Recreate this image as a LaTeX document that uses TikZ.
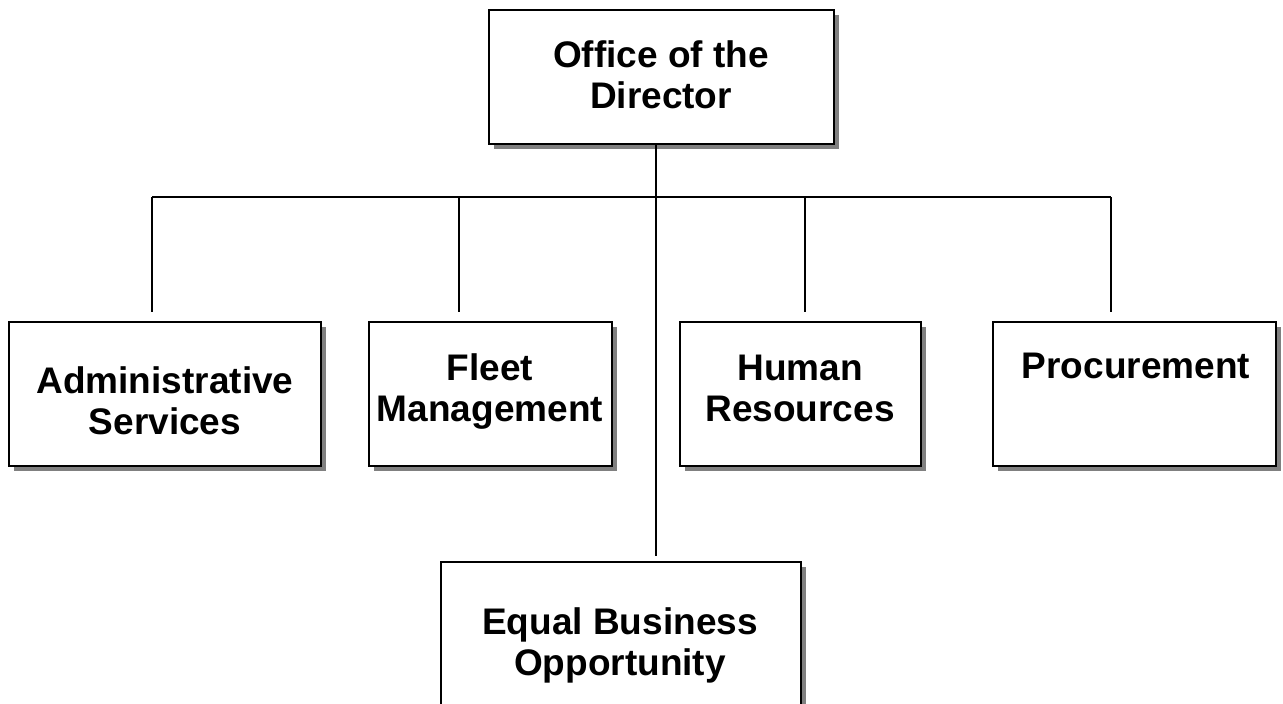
\documentclass[tikz,border=0pt]{standalone}
\usepackage{fontspec}
\setmainfont{Liberation Sans}
\usetikzlibrary{shadows}
\begin{document}
\begin{tikzpicture}[x=1pt,y=-1pt,
  unitbox/.style={rectangle, draw=black, line width=1.8pt, fill=white, inner sep=0pt,
    drop shadow={shadow xshift=5pt, shadow yshift=-5pt, fill=black!50, opacity=1}},
  lbl/.style={font=\fontsize{37}{41}\selectfont\bfseries, align=center, inner sep=0pt, anchor=base},
  link/.style={line width=1.5pt, black}]
\useasboundingbox (0,0) rectangle (1283,704);
\clip (0,0) rectangle (1283,704);
\fill[white] (0,0) rectangle (1283,704);

% boxes
\node[unitbox, minimum width=345pt, minimum height=134pt] (dir) at (661.5,77) {};
\node[unitbox, minimum width=312pt, minimum height=144pt] (adm) at (165,394) {};
\node[unitbox, minimum width=243pt, minimum height=144pt] (flt) at (490.5,394) {};
\node[unitbox, minimum width=241pt, minimum height=144pt] (hum) at (800.5,394) {};
\node[unitbox, minimum width=283pt, minimum height=144pt] (prc) at (1134.5,394) {};
\node[unitbox, minimum width=360pt, minimum height=170pt] (ebo) at (621,647) {};

% labels (base anchor = baseline of the last line)
\node[lbl] (tdir) at (661,108) {Office of the\\Director};
\node[lbl] (tadm) at (165,434) {Administrative\\Services};
\node[lbl] (tflt) at (490,421) {Fleet\\Management};
\node[lbl] (thum) at (800,421) {Human\\Resources};
\node[lbl] (tprc) at (1136,378) {Procurement};
\node[lbl] (tebo) at (620,675) {Equal Business\\Opportunity};

% junctions of the bus
\coordinate (jA) at (152,197);
\coordinate (jB) at (459,197);
\coordinate (jT) at (656,197);
\coordinate (jC) at (805,197);
\coordinate (jD) at (1111,197);

% connectors
\draw[link, shorten >=5pt] (dir.south -| jT) -- (ebo.north -| jT);
\draw[link] (jA) -- (jD);
\draw[link, shorten >=9pt] (jA) -- (jA |- adm.north);
\draw[link, shorten >=9pt] (jB) -- (jB |- flt.north);
\draw[link, shorten >=9pt] (jC) -- (jC |- hum.north);
\draw[link, shorten >=9pt] (jD) -- (jD |- prc.north);
\end{tikzpicture}
\end{document}
